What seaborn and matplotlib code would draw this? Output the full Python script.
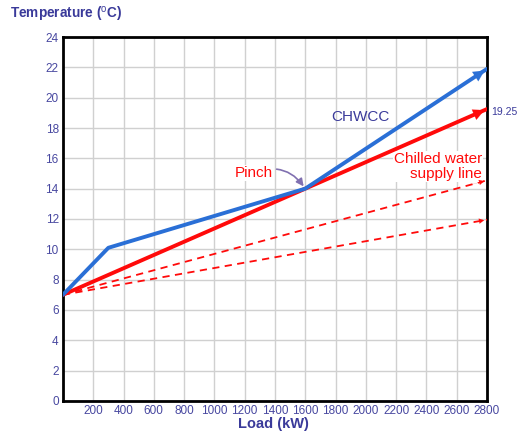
import numpy as np
import pandas as pd
import seaborn as sns
import matplotlib.pyplot as plt

# ---------------- DATA ----------------
chwcc_load = [0, 300, 1600, 2800]
chwcc_temp = [7.0, 10.1, 14.0, 21.9]

supply_load = [0, 2800]
supply_temp = [7.0, 19.25]

dash1_load = [0, 2800]
dash1_temp = [7.0, 14.55]
dash2_load = [0, 2800]
dash2_temp = [7.0, 11.95]

pinch_point = (1600, 14.0)

x_ticks = list(range(200, 2801, 200))
y_ticks = list(range(0, 25, 2))

navy = '#3a3a9a'
tick_col = '#4848a0'
blue = '#2a6fd6'
red = '#ff0a0a'

sns.set_theme(style='whitegrid')
plt.rcParams['font.family'] = ['Liberation Sans', 'DejaVu Sans']
plt.rcParams['mathtext.fontset'] = 'custom'
plt.rcParams['mathtext.rm'] = 'Liberation Sans'

fig = plt.figure(figsize=(5.2, 4.33), dpi=100)
ax = fig.add_axes([0.121, 0.074, 0.8155, 0.8405])

df_chwcc = pd.DataFrame({'Load': chwcc_load, 'Temp': chwcc_temp})
df_sup = pd.DataFrame({'Load': supply_load, 'Temp': supply_temp})
df_d1 = pd.DataFrame({'Load': dash1_load, 'Temp': dash1_temp})
df_d2 = pd.DataFrame({'Load': dash2_load, 'Temp': dash2_temp})

sns.lineplot(data=df_d1, x='Load', y='Temp', ax=ax, color=red, lw=1.3, linestyle=(0, (4, 3)), zorder=3)
sns.lineplot(data=df_d2, x='Load', y='Temp', ax=ax, color=red, lw=1.3, linestyle=(0, (4, 3)), zorder=3)
sns.lineplot(data=df_sup, x='Load', y='Temp', ax=ax, color=red, lw=2.8, zorder=4)
sns.lineplot(data=df_chwcc, x='Load', y='Temp', ax=ax, color=blue, lw=2.8, zorder=5)

# pfeilspitzen am ende der linien
def head(xs, ys, color, size):
    ax.annotate('', xy=(xs[-1], ys[-1]), xytext=(xs[-2] + (xs[-1] - xs[-2]) * 0.96,
                                                ys[-2] + (ys[-1] - ys[-2]) * 0.96),
                arrowprops=dict(arrowstyle='-|>', color=color, lw=0.1,
                                mutation_scale=size), zorder=6, annotation_clip=False)

head(chwcc_load, chwcc_temp, blue, 20)
head(supply_load, supply_temp, red, 20)
head(dash1_load, dash1_temp, red, 9)
head(dash2_load, dash2_temp, red, 9)

ax.set_xlim(0, 2800)
ax.set_ylim(0, 24)
ax.set_xticks(x_ticks)
ax.set_yticks(y_ticks)
ax.tick_params(axis='both', colors=tick_col, labelsize=8.5, length=0, pad=3)
ax.grid(True, color='#d0d0d0', lw=1)
for s in ax.spines.values():
    s.set_color('black')
    s.set_linewidth(2)
ax.set_xlabel('')
ax.set_ylabel('')

fig.text(0.02, 0.967, 'Temperature ($^{\\mathrm{o}}$C)', color=navy, fontsize=9.8,
         fontweight='bold', ha='left', va='center')
fig.text(0.525, 0.021, 'Load (kW)', color=navy, fontsize=10.5, fontweight='bold',
         ha='center', va='center')

ax.text(1962, 18.7, 'CHWCC', color=navy, fontsize=11, ha='center', va='center')
ax.text(2830, 19.05, '19.25', color=navy, fontsize=7.5, ha='left', va='center')
ax.text(2767, 15.45, 'Chilled water\nsupply line', color=red, fontsize=11, ha='right',
        va='center', linespacing=1.15,
        bbox=dict(facecolor='white', edgecolor='none', pad=0.5))
ax.annotate('Pinch', xy=pinch_point, xytext=(1262, 15.05), color=red, fontsize=11,
            ha='center', va='center',
            arrowprops=dict(arrowstyle='-|>', color='#8070b0', lw=1.2,
                            connectionstyle='arc3,rad=-0.4', shrinkA=2, shrinkB=2),
            bbox=dict(facecolor='white', edgecolor='none', pad=0.5), zorder=7)

fig.savefig('out.png', dpi=100)
